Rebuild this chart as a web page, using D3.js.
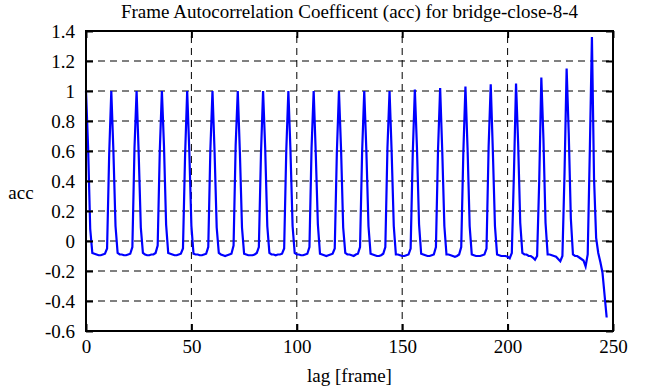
<!DOCTYPE html>
<html>
<head>
<meta charset="utf-8">
<script src="https://cdn.jsdelivr.net/npm/d3@7"></script>
<style>
  body { margin: 0; background: #fff; }
  text { font-family: "Liberation Serif", "DejaVu Serif", serif; fill: #000; }
</style>
</head>
<body>
<div id="chart"></div>
<script>
// tick values
const xTicks = [0, 50, 100, 150, 200, 250];
const yTicks = [-0.6, -0.4, -0.2, 0, 0.2, 0.4, 0.6, 0.8, 1, 1.2, 1.4];

// autocorrelation per lag (one row = 12 lags)
const acc = [
  1.00, 0.62, 0.08, -0.08, -0.085, -0.09, -0.095, -0.095, -0.09, -0.085, -0.05, 0.58,
  1.00, 0.60, 0.10, -0.08, -0.09, -0.09, -0.095, -0.095, -0.09, -0.085, -0.04, 0.62,
  1.00, 0.58, 0.09, -0.08, -0.09, -0.095, -0.095, -0.09, -0.09, -0.08, -0.03, 0.60,
  1.00, 0.63, 0.11, -0.08, -0.085, -0.09, -0.095, -0.095, -0.09, -0.085, -0.05, 0.57,
  1.00, 0.60, 0.10, -0.085, -0.09, -0.09, -0.095, -0.095, -0.09, -0.085, -0.04, 0.61,
  1.00, 0.59, 0.09, -0.08, -0.09, -0.095, -0.10, -0.095, -0.09, -0.085, -0.03, 0.64,
  1.00, 0.59, 0.09, -0.085, -0.09, -0.095, -0.095, -0.095, -0.09, -0.08, -0.04, 0.58,
  1.00, 0.62, 0.10, -0.08, -0.09, -0.09, -0.095, -0.09, -0.09, -0.085, -0.05, 0.60,
  1.00, 0.60, 0.10, -0.08, -0.09, -0.09, -0.095, -0.095, -0.09, -0.085, -0.04, 0.62,
  1.00, 0.58, 0.11, -0.085, -0.09, -0.095, -0.10, -0.095, -0.09, -0.085, -0.05, 0.59,
  1.00, 0.61, 0.09, -0.08, -0.09, -0.09, -0.095, -0.10, -0.09, -0.085, -0.04, 0.60,
  1.00, 0.60, 0.10, -0.085, -0.09, -0.095, -0.10, -0.10, -0.095, -0.085, -0.04, 0.62,
  1.00, 0.59, 0.10, -0.09, -0.09, -0.095, -0.10, -0.10, -0.095, -0.09, -0.05, 0.58,
  1.01, 0.62, 0.11, -0.085, -0.09, -0.095, -0.10, -0.10, -0.095, -0.09, -0.04, 0.61,
  1.02, 0.60, 0.10, -0.09, -0.09, -0.095, -0.10, -0.105, -0.10, -0.09, -0.04, 0.59,
  1.03, 0.62, 0.10, -0.09, -0.095, -0.10, -0.10, -0.10, -0.095, -0.09, -0.05, 0.63,
  1.045, 0.60, 0.10, -0.09, -0.095, -0.10, -0.10, -0.10, -0.105, -0.115, -0.08, 0.45,
  1.05, 0.65, 0.12, -0.08, -0.09, -0.09, -0.10, -0.10, -0.11, -0.125, -0.10, 0.40,
  1.09, 0.68, 0.12, -0.09, -0.09, -0.095, -0.10, -0.105, -0.12, -0.135, -0.10, 0.45,
  1.15, 0.72, 0.15, -0.09, -0.10, -0.10, -0.11, -0.12, -0.13, -0.17, -0.09, 0.60,
  1.36, 0.42, 0.02, -0.08, -0.14, -0.21, -0.36, -0.51
];

const width = 656, height = 387;
const margin = {top: 31, right: 43, bottom: 56, left: 86};
const fontSize = "19px";

const svg = d3.select("#chart").append("svg")
    .attr("width", width)
    .attr("height", height);

const x = d3.scaleLinear().domain([0, 250]).range([margin.left, width - margin.right]);
const y = d3.scaleLinear().domain([-0.6, 1.4]).range([height - margin.bottom, margin.top]);

// dashed grid
const grid = svg.append("g")
    .attr("stroke", "#000")
    .attr("stroke-width", 1)
    .attr("stroke-dasharray", "7,5");

grid.selectAll("line.gx")
    .data(xTicks.slice(1, -1))
    .join("line")
        .attr("class", "gx")
        .attr("x1", d => x(d)).attr("x2", d => x(d))
        .attr("y1", y(-0.6)).attr("y2", y(1.4));

grid.selectAll("line.gy")
    .data(yTicks.slice(1, -1))
    .join("line")
        .attr("class", "gy")
        .attr("x1", x(0)).attr("x2", x(250))
        .attr("y1", d => y(d)).attr("y2", d => y(d));

// data line
svg.append("path")
    .datum(acc)
    .attr("fill", "none")
    .attr("stroke", "#0000ff")
    .attr("stroke-width", 2.2)
    .attr("stroke-linejoin", "miter")
    .attr("d", d3.line()
        .x((d, i) => x(i))
        .y(d => y(d)));

// axes, ticks pointing inwards
const fmt = d => String(d);

const axL = svg.append("g")
    .attr("transform", `translate(${x(0)},0)`)
    .call(d3.axisLeft(y).tickValues(yTicks).tickSize(-7).tickPadding(11).tickFormat(fmt));
const axR = svg.append("g")
    .attr("transform", `translate(${x(250)},0)`)
    .call(d3.axisRight(y).tickValues(yTicks).tickSize(-7).tickFormat(""));
const axB = svg.append("g")
    .attr("transform", `translate(0,${y(-0.6)})`)
    .call(d3.axisBottom(x).tickValues(xTicks).tickSize(-7).tickPadding(9).tickFormat(fmt));
const axT = svg.append("g")
    .attr("transform", `translate(0,${y(1.4)})`)
    .call(d3.axisTop(x).tickValues(xTicks).tickSize(-7).tickFormat(""));

[axL, axR, axB, axT].forEach(a => {
    a.select(".domain").remove();
    a.selectAll(".tick line").attr("stroke", "#000").attr("stroke-width", 2);
    a.selectAll("text")
        .style("font-family", "'Liberation Serif', serif")
        .style("font-size", fontSize)
        .attr("fill", "#000");
});

// frame
svg.append("rect")
    .attr("x", x(0)).attr("y", y(1.4))
    .attr("width", x(250) - x(0))
    .attr("height", y(-0.6) - y(1.4))
    .attr("fill", "none")
    .attr("stroke", "#000")
    .attr("stroke-width", 2);

// titles
svg.append("text")
    .attr("x", (x(0) + x(250)) / 2)
    .attr("y", 18)
    .attr("text-anchor", "middle")
    .style("font-size", fontSize)
    .text("Frame Autocorrelation Coefficent (acc) for bridge-close-8-4");

svg.append("text")
    .attr("x", (x(0) + x(250)) / 2)
    .attr("y", 382)
    .attr("text-anchor", "middle")
    .style("font-size", fontSize)
    .text("lag [frame]");

svg.append("text")
    .attr("x", 21)
    .attr("y", 199)
    .attr("text-anchor", "middle")
    .style("font-size", fontSize)
    .text("acc");
</script>
</body>
</html>
